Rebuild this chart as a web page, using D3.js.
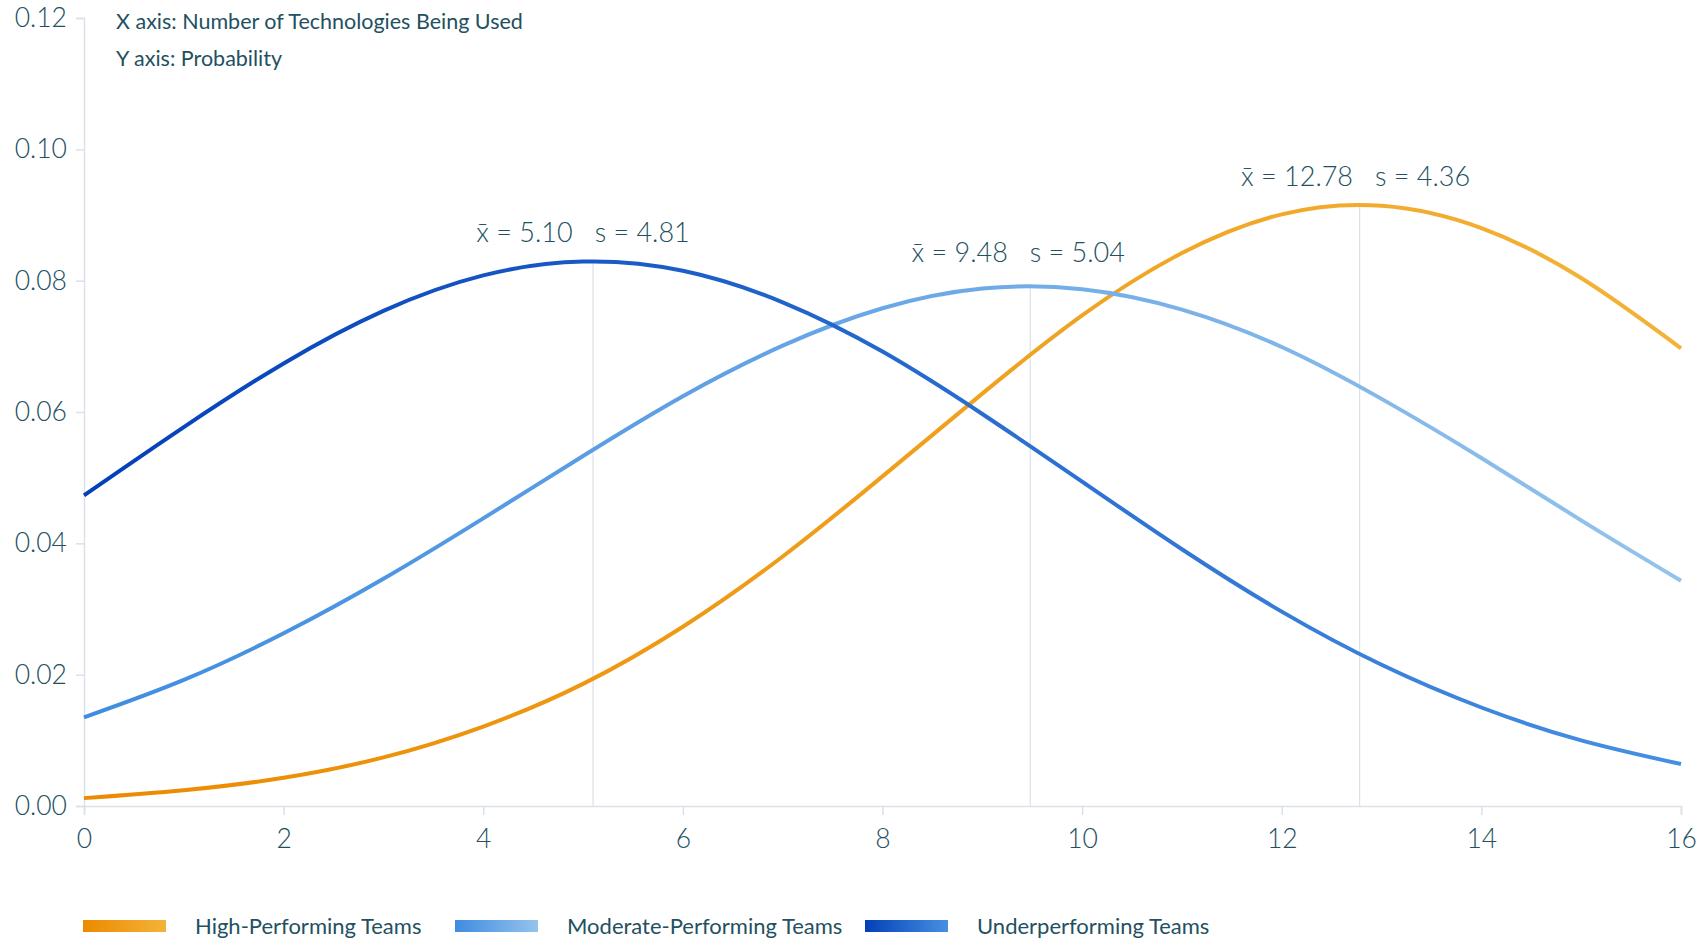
<!DOCTYPE html>
<html>
<head>
<meta charset="utf-8">
<script src="https://cdn.jsdelivr.net/npm/d3@7"></script>
<style>
  html, body { margin: 0; padding: 0; background: #ffffff; }
  svg { display: block; }
  text { font-family: Lato, "Open Sans", sans-serif; }
</style>
</head>
<body>
<svg id="chart" width="1706" height="940"></svg>
<script>
// ---- data ----
const xValues = [0, 1, 2, 3, 4, 5, 6, 7, 8, 9, 10, 11, 12, 13, 14, 15, 16];
const highValues =     [0.0012, 0.0024, 0.0043, 0.0074, 0.0121, 0.0186, 0.0273, 0.0380, 0.0502, 0.0628, 0.0747, 0.0842, 0.0901, 0.0914, 0.0880, 0.0804, 0.0697];
const moderateValues = [0.0135, 0.0192, 0.0263, 0.0346, 0.0438, 0.0533, 0.0624, 0.0701, 0.0758, 0.0788, 0.0787, 0.0756, 0.0699, 0.0620, 0.0530, 0.0435, 0.0343];
const underValues =    [0.0473, 0.0577, 0.0674, 0.0754, 0.0808, 0.0829, 0.0815, 0.0767, 0.0692, 0.0597, 0.0494, 0.0391, 0.0296, 0.0215, 0.0150, 0.0100, 0.0064];
const seriesNames = ["High-Performing Teams", "Moderate-Performing Teams", "Underperforming Teams"];
const seriesMeans = [12.78, 9.48, 5.10];
const seriesSds = [4.36, 5.04, 4.81];
const seriesPeaks = [0.0915, 0.0792, 0.0829];
const xTicks = [0, 2, 4, 6, 8, 10, 12, 14, 16];
const yTicks = [0.00, 0.02, 0.04, 0.06, 0.08, 0.10, 0.12];
const noteLines = ["X axis: Number of Technologies Being Used", "Y axis: Probability"];

// ---- styles ----
const gradients = [
  ["#ec8a00", "#f3b338"],
  ["#3f8ce0", "#95c3ec"],
  ["#0340b8", "#4690e2"]
];
const textColor = "#23505f";
const axisColor = "#dbe1e8";
const labelDx = [-4, -12, -10];
const labelDy = [-19, -24, -20];

const svg = d3.select("#chart");
const margin = { left: 84, right: 25, top: 18, bottom: 134 };
const W = 1706, H = 940;

const x = d3.scaleLinear().domain([0, 16]).range([margin.left, W - margin.right]);
const y = d3.scaleLinear().domain([0, 0.12]).range([H - margin.bottom, margin.top]);

const defs = svg.append("defs");
gradients.forEach((g, i) => {
  const lg = defs.append("linearGradient")
    .attr("id", "grad" + i)
    .attr("gradientUnits", "userSpaceOnUse")
    .attr("x1", x(0)).attr("x2", x(16)).attr("y1", 0).attr("y2", 0);
  lg.append("stop").attr("offset", "0%").attr("stop-color", g[0]);
  lg.append("stop").attr("offset", "100%").attr("stop-color", g[1]);
  const lg2 = defs.append("linearGradient").attr("id", "lgrad" + i);
  lg2.append("stop").attr("offset", "0%").attr("stop-color", g[0]);
  lg2.append("stop").attr("offset", "100%").attr("stop-color", g[1]);
});

// axes
const yAxis = d3.axisLeft(y).tickValues(yTicks).tickFormat(d3.format(".2f")).tickSize(8).tickPadding(9);
const gy = svg.append("g").attr("transform", `translate(${x(0)},0)`).call(yAxis);
const xAxis = d3.axisBottom(x).tickValues(xTicks).tickFormat(d3.format("d")).tickSize(9).tickPadding(14);
const gx = svg.append("g").attr("transform", `translate(0,${y(0)})`).call(xAxis);
[gx, gy].forEach(g => {
  g.select(".domain").attr("stroke", axisColor).attr("stroke-width", 1.5);
  g.selectAll(".tick line").attr("stroke", axisColor).attr("stroke-width", 1.5);
  g.selectAll(".tick text").attr("fill", textColor).attr("font-size", 26.5).attr("font-weight", 300)
    .attr("font-family", "Lato, sans-serif");
});

// mean reference lines
const series = [highValues, moderateValues, underValues];
svg.append("g").selectAll("line").data(seriesMeans).join("line")
  .attr("x1", d => x(d)).attr("x2", d => x(d))
  .attr("y1", (d, i) => y(seriesPeaks[i])).attr("y2", y(0))
  .attr("stroke", axisColor).attr("stroke-width", 1.2);

// curves
const line = d3.line().x((d, i) => x(xValues[i])).y(d => y(d)).curve(d3.curveNatural);
svg.append("g").selectAll("path").data(series).join("path")
  .attr("d", d => line(d))
  .attr("fill", "none")
  .attr("stroke", (d, i) => `url(#grad${i})`)
  .attr("stroke-width", 4)
  .attr("stroke-linecap", "butt");

// mean/sd labels
const labels = svg.append("g").selectAll("text").data(seriesMeans).join("text")
  .attr("x", (d, i) => x(d) + labelDx[i])
  .attr("y", (d, i) => y(seriesPeaks[i]) + labelDy[i])
  .attr("text-anchor", "middle")
  .attr("fill", textColor)
  .attr("font-size", 27)
  .attr("font-weight", 300);
labels.append("tspan").text(d => "x\u0304 = " + d3.format(".2f")(d));
labels.append("tspan").attr("dx", 22).text((d, i) => "s = " + d3.format(".2f")(seriesSds[i]));

// notes
svg.append("g").selectAll("text").data(noteLines).join("text")
  .attr("x", 116)
  .attr("y", (d, i) => 29 + i * 37)
  .attr("fill", textColor)
  .attr("font-size", 21.5)
  .attr("font-weight", 400)
  .text(d => d);

// legend
const legendX = [83, 455, 865];
const lg = svg.append("g").selectAll("g").data(seriesNames).join("g")
  .attr("transform", (d, i) => `translate(${legendX[i]},926)`);
lg.append("rect").attr("x", 0).attr("y", -6).attr("width", 83).attr("height", 12)
  .attr("fill", (d, i) => `url(#lgrad${i})`);
lg.append("text").attr("x", 112).attr("y", 8)
  .attr("fill", textColor).attr("font-size", 22).attr("font-weight", 400)
  .text(d => d);
</script>
</body>
</html>
